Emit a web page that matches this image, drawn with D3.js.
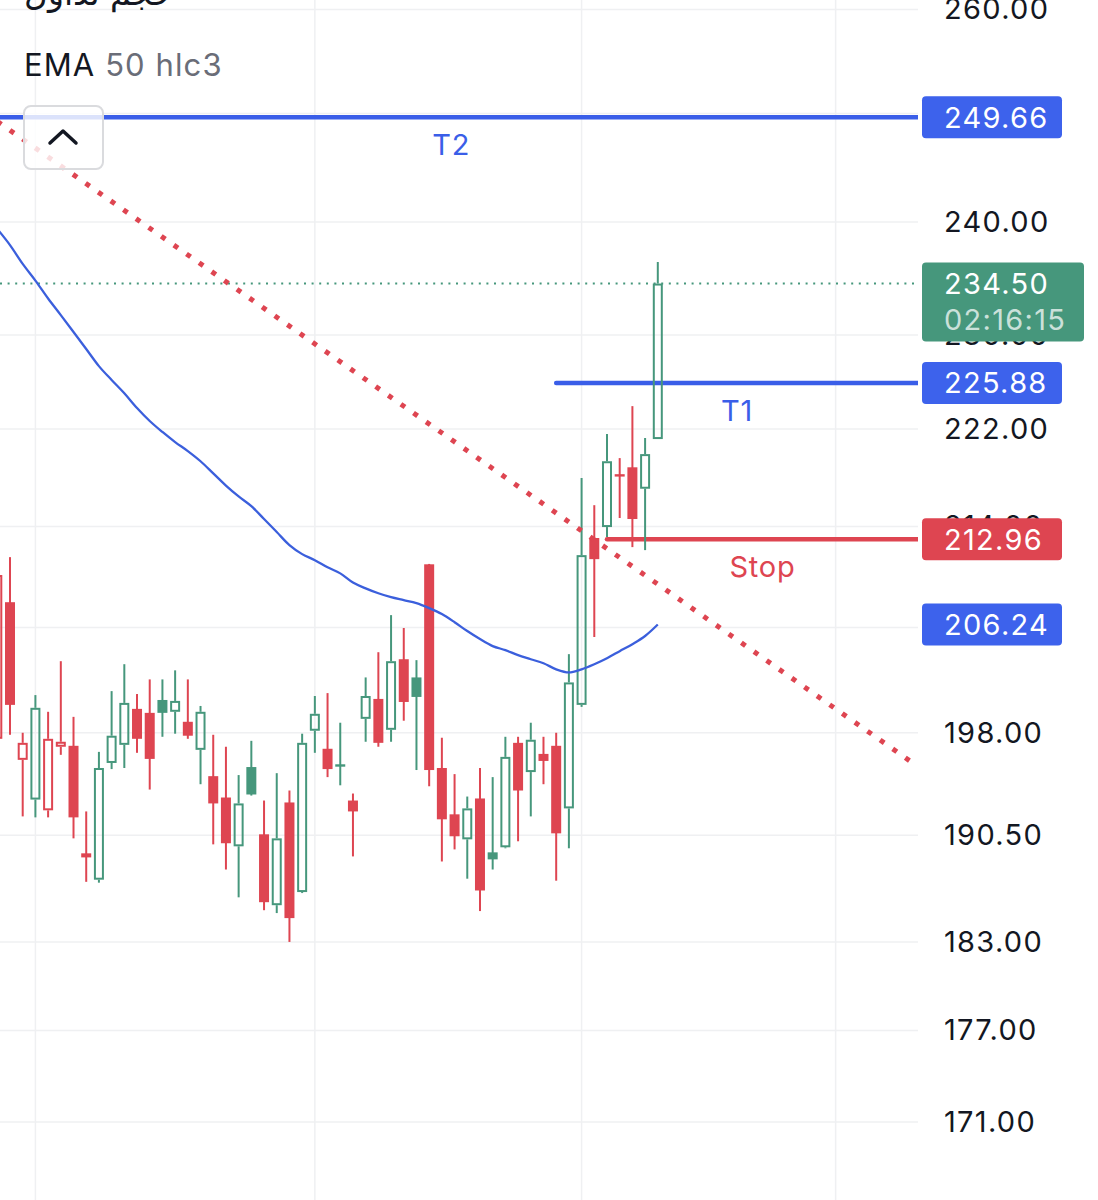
<!DOCTYPE html>
<html><head><meta charset="utf-8">
<script src="https://cdn.jsdelivr.net/npm/d3@7"></script>
<style>html,body{margin:0;padding:0;background:#fff;overflow:hidden}</style>
</head><body><svg id="c" width="1098" height="1200"></svg>
<script>
// ---- data ----
const openP  = [197.55,207.98,195.99,193.08,192.30,196.96,197.03,189.21,187.34,195.76,197.10,199.79,199.49,200.46,199.57,198.82,196.73,194.79,193.23,189.71,195.46,190.57,185.55,192.87,186.47,198.15,196.81,195.54,193.01,199.04,200.54,198.22,203.56,202.17,210.97,195.39,192.01,190.21,193.16,189.28,189.64,197.25,195.09,196.43,197.03,192.44,200.09,213.07,213.95,218.24,218.82,217.06,221.16];
const highP  = [211.30,211.54,198.00,200.83,199.57,203.41,199.19,192.22,196.58,201.13,203.18,200.91,202.02,202.02,202.71,202.02,200.01,197.85,196.96,194.87,197.40,193.01,195.01,193.74,197.93,200.76,200.98,198.75,193.52,202.17,204.10,206.97,205.97,203.49,211.00,197.63,194.94,193.30,195.39,194.72,197.70,197.70,198.75,197.70,198.00,203.95,217.94,215.72,221.58,219.58,223.92,221.25,236.41];
const lowP   = [196.88,197.85,191.86,191.79,191.79,196.36,190.28,187.19,187.13,195.31,195.39,196.51,193.81,197.70,197.93,197.55,194.20,189.85,188.06,186.10,193.37,185.20,185.00,183.00,186.40,196.51,194.72,194.12,188.99,197.33,196.96,197.33,198.90,195.24,194.05,188.63,189.49,187.41,185.14,188.06,189.57,190.07,191.86,194.20,187.27,189.57,199.94,205.27,213.15,214.68,212.34,212.10,221.16];
const closeP = [210.12,200.09,197.25,199.87,197.55,197.33,191.79,188.92,195.39,197.78,200.24,197.55,196.06,199.49,200.39,197.78,199.57,192.80,189.93,192.80,193.45,185.76,190.28,184.65,197.25,199.42,195.31,195.61,192.22,200.76,197.25,203.41,200.31,200.69,195.24,191.65,190.43,192.44,186.58,188.78,196.21,193.74,197.48,195.91,190.64,201.79,211.70,211.38,219.32,218.07,214.60,219.91,234.50];
const ema50  = [239.37,237.92,236.24,234.76,233.18,231.73,230.26,228.79,227.32,226.14,225.01,223.76,222.67,221.75,220.91,220.16,219.32,218.32,217.32,216.43,215.64,214.60,213.55,212.50,211.78,211.30,210.73,210.25,209.52,209.07,208.68,208.37,208.14,207.91,207.52,207.05,206.42,205.73,205.11,204.57,204.26,203.87,203.56,203.25,202.79,202.55,202.79,203.18,203.64,204.18,204.72,205.35,206.24];
const firstPrevClose = 212.0;
const gridTicks  = [260,250,240,230,222,214,206,198,190.5,183,177,171];
const labelTicks = [260,240,230,222,214,198,190.5,183,177,171];
const timeGridIndex = [3,25,46,66];
const levelNames  = ["T2","T1","Stop"];
const levelPrices = [249.66,225.88,212.96];
const levelStart  = [-1,44,48];
const trendIndex = [0,72.46];
const trendPrice = [249.27,195.51];
const lastPrice = 234.50;
const countdown = "02:16:15";
const emaLast = 206.24;

// ---- setup ----
const W=1098,H=1200,plotR=918;
const GREEN="#46977c",RED="#de4551",BLUE="#3a5ee8",EMAC="#3b5fdc",LBLUE="#3d62ec";
const FONT="Inter, 'Noto Sans', sans-serif";
const LS=1.3;
const svg=d3.select("#c");
const y=d3.scaleLog().domain([260.93,166.05]).range([0,H]);
const x=d3.scaleLinear().domain([0,52]).range([-2.7,657.8]);

svg.append("defs").append("clipPath").attr("id","plot").append("rect").attr("x",0).attr("y",0).attr("width",plotR).attr("height",H);

// grid
const grid=svg.append("g");
grid.selectAll(".hg").data(gridTicks).join("line").attr("x1",0).attr("x2",plotR)
  .attr("y1",d=>y(d)).attr("y2",d=>y(d)).attr("stroke","#eff0f2").attr("stroke-width",1.5);
grid.selectAll(".vg").data(timeGridIndex).join("line").attr("x1",d=>x(d)).attr("x2",d=>x(d))
  .attr("y1",0).attr("y2",H).attr("stroke","#eff0f2").attr("stroke-width",1.5);

const plot=svg.append("g").attr("clip-path","url(#plot)");

// last price dotted line
plot.append("line").attr("x1",0).attr("x2",plotR).attr("y1",y(lastPrice)).attr("y2",y(lastPrice))
  .attr("stroke",GREEN).attr("stroke-width",2).attr("stroke-dasharray","2 5.6");

// level lines
const lvlColors=[BLUE,BLUE,RED];
levelPrices.forEach((p,k)=>{
  plot.append("line").attr("x1",x(levelStart[k])).attr("x2",plotR+10).attr("y1",y(p)).attr("y2",y(p))
    .attr("stroke",lvlColors[k]).attr("stroke-width",4.5).attr("stroke-linecap","round");
});

// candles
const cg=plot.append("g");
d3.range(openP.length).forEach(i=>{
  const o=openP[i],c=closeP[i],h=highP[i],l=lowP[i];
  const pc=i===0?firstPrevClose:closeP[i-1];
  const col=c>=pc?GREEN:RED;
  const hollow=c>o;
  const cx=x(i);
  const top=y(Math.max(o,c)),bot=y(Math.min(o,c));
  const bh=bot-top;
  if(bh<3){
    cg.append("line").attr("x1",cx).attr("x2",cx).attr("y1",y(h)).attr("y2",y(l)).attr("stroke",col).attr("stroke-width",2);
    cg.append("rect").attr("x",cx-5).attr("width",10).attr("y",(top+bot)/2-1.2).attr("height",2.4).attr("fill",col);
  } else if(hollow){
    cg.append("line").attr("x1",cx).attr("x2",cx).attr("y1",y(h)).attr("y2",top).attr("stroke",col).attr("stroke-width",2);
    cg.append("line").attr("x1",cx).attr("x2",cx).attr("y1",bot).attr("y2",y(l)).attr("stroke",col).attr("stroke-width",2);
    cg.append("rect").attr("x",cx-4).attr("width",8).attr("y",top+1).attr("height",bh-2)
      .attr("fill","none").attr("stroke",col).attr("stroke-width",2);
  } else {
    cg.append("line").attr("x1",cx).attr("x2",cx).attr("y1",y(h)).attr("y2",y(l)).attr("stroke",col).attr("stroke-width",2);
    cg.append("rect").attr("x",cx-5).attr("width",10).attr("y",top).attr("height",bh).attr("fill",col);
  }
});

// EMA
plot.append("path").datum(ema50.map((v,i)=>[i,v]))
  .attr("d",d3.line().x(d=>x(d[0])).y(d=>y(d[1])).curve(d3.curveMonotoneX))
  .attr("fill","none").attr("stroke",EMAC).attr("stroke-width",2.3);

// trendline
plot.append("line").attr("x1",x(trendIndex[0])).attr("y1",y(trendPrice[0]))
  .attr("x2",x(trendIndex[1])).attr("y2",y(trendPrice[1]))
  .attr("stroke",RED).attr("stroke-width",5).attr("stroke-dasharray","5 10.4");

// level names
levelNames.forEach((n,k)=>{
  const x1=Math.max(x(levelStart[k]),-16);
  svg.append("text").attr("x",(x1+plotR)/2).attr("y",y(levelPrices[k])+38)
    .attr("text-anchor","middle").attr("font-family",FONT).attr("font-size",29).attr("letter-spacing",0.8)
    .attr("fill",lvlColors[k]).text(n);
});

// legend
svg.append("text").attr("x",24).attr("y",5).attr("font-family","'DejaVu Sans', 'Noto Sans', sans-serif")
  .attr("font-size",33).attr("fill","#131722").text("حجم تداول");
const lg=svg.append("text").attr("x",24).attr("y",76).attr("font-family",FONT).attr("font-size",31).attr("letter-spacing",1.1);
lg.append("tspan").attr("fill","#131722").text("EMA");
lg.append("tspan").attr("fill","#6a6d78").text(" 50 hlc3");

// collapse button
svg.append("rect").attr("x",24).attr("y",106).attr("width",79).attr("height",63).attr("rx",7)
  .attr("fill","rgba(255,255,255,0.82)").attr("stroke","#dadbde").attr("stroke-width",2);
svg.append("path").attr("d","M50,143 L63,131 L76,143").attr("fill","none").attr("stroke","#131722")
  .attr("stroke-width",3.5).attr("stroke-linecap","round").attr("stroke-linejoin","round");

// price axis
const ax=svg.append("g").attr("transform","translate(944,0)")
  .call(d3.axisRight(y).tickValues(labelTicks).tickFormat(d3.format(".2f")).tickSize(0).tickPadding(0));
ax.select(".domain").remove();
ax.selectAll("text").attr("font-family",FONT).attr("font-size",29).attr("letter-spacing",LS).attr("fill","#131722");

// price boxes
function box(p,col,w,h,lines){
  const yc=y(p);
  const top=lines.length>1?yc-21:yc-h/2;
  svg.append("rect").attr("x",922).attr("y",top).attr("width",w).attr("height",h).attr("rx",4).attr("fill",col);
  lines.forEach((t,j)=>{
    svg.append("text").attr("x",944).attr("y",top+21+j*36).attr("dy","0.36em")
      .attr("font-family",FONT).attr("font-size",29).attr("letter-spacing",LS)
      .attr("fill",j?"rgba(255,255,255,0.72)":"#fff").text(t);
  });
}
box(levelPrices[0],LBLUE,140,42,[levelPrices[0].toFixed(2)]);
box(lastPrice,GREEN,162,79,[lastPrice.toFixed(2),countdown]);
box(levelPrices[1],LBLUE,140,42,[levelPrices[1].toFixed(2)]);
box(levelPrices[2],RED,140,42,[levelPrices[2].toFixed(2)]);
box(emaLast,LBLUE,140,42,[emaLast.toFixed(2)]);
</script>
</body></html>
